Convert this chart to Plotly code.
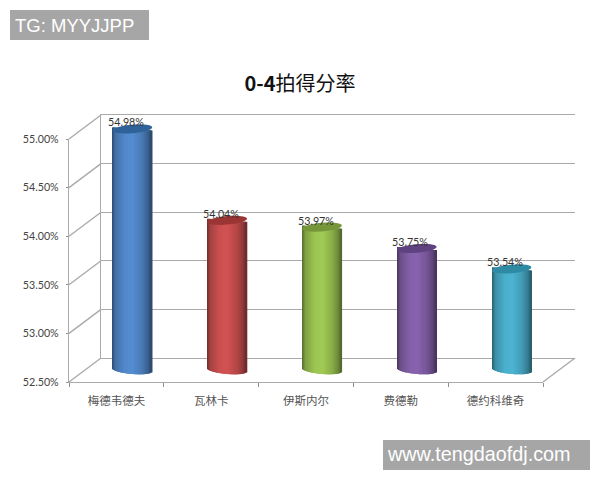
import numpy as np
import plotly.graph_objects as go

players = ['梅德韦德夫', '瓦林卡', '伊斯内尔', '费德勒', '德约科维奇']
win_rate = [54.98, 54.04, 53.97, 53.75, 53.54]
y_ticks = [52.5, 53.0, 53.5, 54.0, 54.5, 55.0]
y_tick_text = ['52.50%', '53.00%', '53.50%', '54.00%', '54.50%', '55.00%']
body_colors = ['#5289cc', '#cc5050', '#9cc552', '#8560aa', '#4aafcc']
cap_colors = ['#2f6299', '#9a3533', '#76963a', '#5f4280', '#2f8aa3']

W, H = 600, 480
# front plane of the fake 3d box, in pixels
left, right, bottom, top = 69, 543, 382, 139
dx, dy = 32, 24
px_per_unit = (bottom - top) / (y_ticks[-1] - y_ticks[0])
cat_px = (right - left) / len(players)

bar_half = 19.5
ell_b = 4.0
tilt = 1.6
pad = 10  # room around the bar axis for the curved bottom and the caps


def xdom(shift):
    return [(left + shift) / W, (right + shift) / W]


def ydom(shift):
    return [(H - bottom + shift) / H, (H - top + shift) / H]


def shade(color, f):
    rgb = [int(color[i:i + 2], 16) for i in (1, 3, 5)]
    return 'rgb(%d,%d,%d)' % tuple(min(255, int(c * f)) for c in rgb)


fig = go.Figure()

# back wall (x/y), front axis (x2/y2), bars half way in (x3/y3)
fig.add_trace(go.Scatter(x=[0, 1], y=[y_ticks[0], y_ticks[-1]], mode='none', xaxis='x', yaxis='y',
                         showlegend=False, hoverinfo='skip'))
fig.add_trace(go.Scatter(x=players, y=win_rate, mode='none', xaxis='x2', yaxis='y2',
                         showlegend=False, hoverinfo='skip'))

# cylinder made of 1px strips, so the sides get a gradient and the bottom gets a curve
strips = np.arange(-bar_half, bar_half, 1.0)
for s in strips:
    u = (s + 0.5) / bar_half
    f = np.interp(u, [-1, -0.82, -0.35, 0.05, 0.55, 0.85, 1], [0.55, 0.82, 1.0, 1.03, 0.88, 0.7, 0.52])
    sag = ell_b * np.sqrt(max(0, 1 - u * u)) + tilt * u
    lift = tilt * u
    base = [y_ticks[0] - sag / px_per_unit for v in win_rate]
    tops = [v - lift / px_per_unit for v in win_rate]
    fig.add_trace(go.Bar(x=list(range(len(players))),
                         y=[t - b for t, b in zip(tops, base)],
                         base=base,
                         width=1.6 / cat_px,
                         offset=s / cat_px,
                         marker=dict(color=[shade(c, f) for c in body_colors], line_width=0),
                         xaxis='x3', yaxis='y3',
                         showlegend=False, hoverinfo='skip'))

shapes = []

# top of each cylinder, a tilted ellipse
t = np.linspace(0, 2 * np.pi, 41)
ex = (bar_half + 0.3) * np.cos(t)
ey = (ell_b + 0.3) * np.sin(t) + tilt * np.cos(t)
cap_path = 'M' + ' L'.join('%.2f,%.2f' % p for p in zip(ex, ey)) + ' Z'
for i, v in enumerate(win_rate):
    shapes.append(dict(type='path', path=cap_path, xref='x3', yref='y3',
                       xsizemode='pixel', ysizemode='pixel', xanchor=i, yanchor=v,
                       fillcolor=cap_colors[i], line_width=0, layer='above'))

# side wall lines joining the front axis with the back wall
grid_color = '#aaaaaa'
for v in y_ticks:
    py = (H - bottom + (v - y_ticks[0]) * px_per_unit) / H
    shapes.append(dict(type='line', xref='paper', yref='paper',
                       x0=left / W, y0=py, x1=(left + dx) / W, y1=py + dy / H,
                       line=dict(color=grid_color, width=1.4), layer='below'))
shapes.append(dict(type='line', xref='paper', yref='paper',
                   x0=right / W, y0=(H - bottom) / H, x1=(right + dx) / W, y1=(H - bottom + dy) / H,
                   line=dict(color=grid_color, width=1.4), layer='below'))

# watermark boxes
shapes.append(dict(type='rect', xref='paper', yref='paper', x0=10 / W, x1=149 / W, y0=1 - 40 / H, y1=1 - 10 / H,
                   fillcolor='#a6a6a6', line_width=0, layer='below'))
shapes.append(dict(type='rect', xref='paper', yref='paper', x0=383 / W, x1=590 / W, y0=1 - 470 / H, y1=1 - 440 / H,
                   fillcolor='#a6a6a6', line_width=0, layer='below'))

annotations = []
for i, v in enumerate(win_rate):
    annotations.append(dict(x=i, y=v, xref='x3', yref='y3', text='%.2f%%' % v, showarrow=False,
                            xshift=-6.5, yshift=7, font=dict(family='Lato', size=10.7, color='#333333')))

annotations.append(dict(x=13 / W, y=1 - 25 / H, xref='paper', yref='paper', xanchor='left', yanchor='middle',
                        text='TG: MYYJJPP', showarrow=False,
                        font=dict(family='Liberation Sans', size=18.5, color='white')))
annotations.append(dict(x=385 / W, y=1 - 454 / H, xref='paper', yref='paper', xanchor='left', yanchor='middle',
                        text='www.tengdaofdj.com', showarrow=False,
                        font=dict(family='Liberation Sans', size=19.8, color='white')))

y_range = [y_ticks[0], y_ticks[-1]]
bar_dom = ydom(dy / 2)
fig.update_layout(
    width=W, height=H,
    margin=dict(l=0, r=0, t=0, b=0, autoexpand=False),
    paper_bgcolor='white', plot_bgcolor='rgba(0,0,0,0)',
    barmode='overlay',
    title=dict(text='<b>0-4</b>拍得分率', x=0.5, xanchor='center', y=1 - 84 / H, yanchor='middle',
               font=dict(family='Noto Sans CJK SC', size=20, color='#111111')),
    # the mirrored x line gives the top and floor edges, plotly drops gridlines at the range ends
    xaxis=dict(domain=xdom(dx), range=[0, 1], showgrid=False, showticklabels=False, zeroline=False,
               showline=True, mirror=True, linecolor=grid_color, linewidth=1.4, anchor='y'),
    yaxis=dict(domain=ydom(dy), range=y_range, tickvals=y_ticks, showticklabels=False,
               showgrid=True, gridcolor=grid_color, gridwidth=1.4, zeroline=False,
               showline=True, linecolor=grid_color, linewidth=1.4, anchor='x'),
    xaxis2=dict(domain=xdom(0), type='category', categoryorder='array', categoryarray=players,
                range=[-0.5, len(players) - 0.5],
                tickson='boundaries', ticks='outside', ticklen=4, tickcolor='#8c8c8c',
                showline=True, linecolor=grid_color, linewidth=1.4, showgrid=False, anchor='y2',
                ticklabelstandoff=8,
                tickfont=dict(family='Noto Sans CJK SC', size=11.5, color='#555555')),
    yaxis2=dict(domain=ydom(0), range=y_range, tickvals=y_ticks, ticktext=y_tick_text,
                ticks='outside', ticklen=2, tickcolor='#8c8c8c', showgrid=False, zeroline=False,
                showline=True, linecolor=grid_color, linewidth=1.4, anchor='x2',
                ticklabelstandoff=5,
                tickfont=dict(family='Lato', size=10.7, color='#444444')),
    xaxis3=dict(domain=xdom(dx / 2), range=[-0.5, len(players) - 0.5], visible=False, anchor='y3'),
    yaxis3=dict(domain=[bar_dom[0] - pad / H, bar_dom[1] + pad / H],
                range=[y_ticks[0] - pad / px_per_unit, y_ticks[-1] + pad / px_per_unit],
                visible=False, anchor='x3'),
    shapes=shapes,
    annotations=annotations,
)

fig.write_html("out.html", config={'displayModeBar': False},
               post_script="document.body.style.margin='0';")
